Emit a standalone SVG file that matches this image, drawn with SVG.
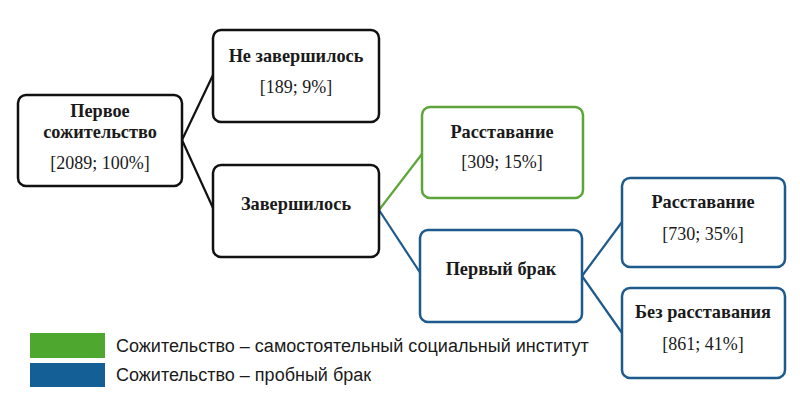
<svg xmlns="http://www.w3.org/2000/svg" width="800" height="410" viewBox="0 0 800 410">
<style>
.box{fill:#fff;stroke-width:2.5}
.k{stroke:#111}
.g{stroke:#5da53a}
.b{stroke:#1f5a8c}
.t{font-family:"Liberation Serif",serif;font-size:18px;fill:#1a1a1a;text-anchor:middle}
.h{font-weight:bold;font-size:18.3px}
.c{fill:none;stroke-width:2.2}
.lg{font-family:"Liberation Sans",Arial,sans-serif;font-size:18px;fill:#1a1a1a}
</style>
<rect width="800" height="410" fill="#fff"/>
<g id="connectors">
<line class="c k" x1="182" y1="140" x2="213" y2="75"/>
<line class="c k" x1="182" y1="140" x2="213" y2="208"/>
<line class="c g" x1="379" y1="210" x2="422" y2="154"/>
<line class="c b" x1="379" y1="210" x2="421" y2="274"/>
<line class="c b" x1="582" y1="276" x2="622" y2="222"/>
<line class="c b" x1="582" y1="276" x2="622" y2="333"/>
</g>
<g id="n1"><rect class="box k" x="18" y="95" width="164" height="91" rx="8"/>
<text class="t h" x="100" y="117">Первое</text><text class="t h" x="100" y="138">сожительство</text><text class="t" x="100" y="169">[2089; 100%]</text></g>
<g id="n2"><rect class="box k" x="213" y="30" width="166" height="92" rx="8"/>
<text class="t h" x="296" y="62">Не завершилось</text><text class="t" x="296" y="93">[189; 9%]</text></g>
<g id="n3"><rect class="box k" x="213" y="165" width="166" height="92" rx="8"/>
<text class="t h" x="296" y="210">Завершилось</text></g>
<g id="n4"><rect class="box g" x="422" y="107" width="161" height="91" rx="8"/>
<text class="t h" x="502" y="138">Расставание</text><text class="t" x="502" y="168">[309; 15%]</text></g>
<g id="n5"><rect class="box b" x="420" y="230" width="162" height="92" rx="8"/>
<text class="t h" x="501" y="275">Первый брак</text></g>
<g id="n6"><rect class="box b" x="622" y="178" width="163" height="89" rx="8"/>
<text class="t h" x="703" y="208">Расставание</text><text class="t" x="703" y="240">[730; 35%]</text></g>
<g id="n7"><rect class="box b" x="622" y="288" width="163" height="90" rx="8"/>
<text class="t h" x="703" y="318">Без расставания</text><text class="t" x="703" y="350">[861; 41%]</text></g>
<g id="legend">
<rect x="30" y="333" width="75" height="25" fill="#4ea72e"/>
<rect x="30" y="363" width="75" height="24" fill="#135f96"/>
<text class="lg" x="116" y="352">Сожительство – самостоятельный социальный институт</text>
<text class="lg" x="116" y="381">Сожительство – пробный брак</text>
</g>
</svg>
